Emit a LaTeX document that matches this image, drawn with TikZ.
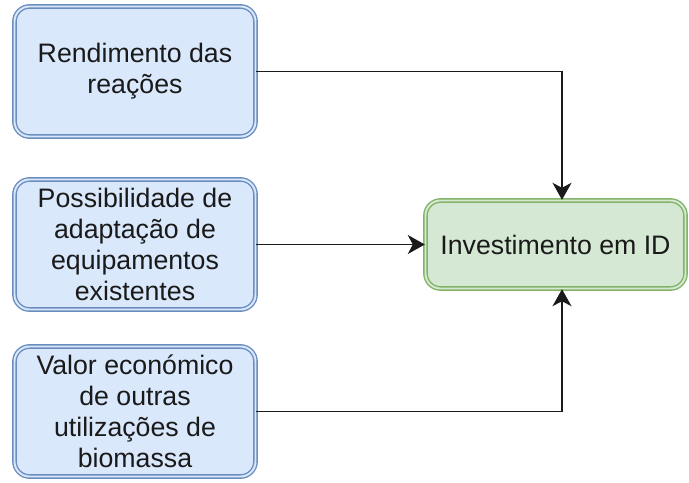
\documentclass[tikz,border=0pt]{standalone}
\usepackage{fontspec}
\setmainfont{Liberation Sans}
\usepackage{tikz}
\usetikzlibrary{arrows.meta,positioning}
\definecolor{factorfill}{HTML}{DAE8FC}
\definecolor{factorline}{HTML}{6C8EBF}
\definecolor{goalfill}{HTML}{D5E8D4}
\definecolor{goalline}{HTML}{82B366}
\definecolor{linkcol}{HTML}{1A1A1A}

\begin{document}
\begin{tikzpicture}[>={Stealth[length=0.34cm,width=0.38cm,inset=0.1cm]},
  every node/.style={font=\fontsize{15.2pt}{17.6pt}\selectfont, text=linkcol, align=center},
  factor/.style={draw=factorline, double=factorfill, fill=factorfill, line width=0.8pt, double distance=1.1pt, rounded corners=0.3cm, minimum width=4.82cm, minimum height=2.6cm, inner sep=0pt},
  goal/.style={draw=goalline, double=goalfill, fill=goalfill, line width=0.8pt, double distance=1.1pt, rounded corners=0.3cm, minimum width=5.2cm, minimum height=1.76cm, inner sep=0pt},
  link/.style={draw=linkcol, line width=1.1pt}]
\useasboundingbox (0,0) rectangle (13.78,-9.64);
\node[factor] (rend) at (2.7,-1.43) {Rendimento das\\reações};
\node[factor] (adapt) at (2.7,-4.89) {Possibilidade de\\adaptação de\\equipamentos\\existentes};
\node[factor] (valor) at (2.7,-8.23) {Valor económico\\de outras\\utilizações de\\biomassa};
\node[goal] (invest) at (11.11,-4.89) {Investimento em ID};
\draw[link,->] (rend.east) -| ([xshift=0.13cm]invest.north);
\draw[link,->] (adapt.east) -- (invest.west);
\draw[link,->] (valor.east) -| ([xshift=0.13cm]invest.south);
\end{tikzpicture}
\end{document}
